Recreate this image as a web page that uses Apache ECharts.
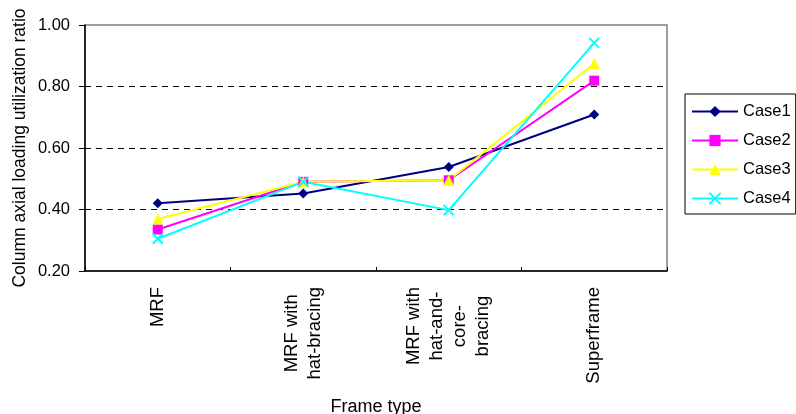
<!DOCTYPE html>
<html>
<head>
<meta charset="utf-8">
<script src="https://cdn.jsdelivr.net/npm/echarts@6/dist/echarts.min.js"></script>
<style>
html,body{margin:0;padding:0;background:#fff;}
#chart{width:796px;height:414px;}
</style>
</head>
<body>
<div id="chart"></div>
<script>
var categories = ['MRF', 'MRF with\nhat-bracing', 'MRF with\nhat-and-\ncore-\nbracing', 'Superframe'];
var seriesNames = ['Case1', 'Case2', 'Case3', 'Case4'];
var case1 = [0.42, 0.452, 0.538, 0.709];
var case2 = [0.335, 0.49, 0.495, 0.819];
var case3 = [0.369, 0.49, 0.495, 0.875];
var case4 = [0.305, 0.49, 0.398, 0.942];
var yTicks = ['0.20', '0.40', '0.60', '0.80', '1.00'];

var FONT = '"Liberation Sans", Arial, sans-serif';
var chart = echarts.init(document.getElementById('chart'), null, {renderer: 'canvas'});

function mk(name, data, color, symbol, size, extra) {
  var s = {
    name: name,
    type: 'line',
    data: data,
    symbol: symbol,
    symbolSize: size,
    lineStyle: {color: color, width: 2},
    itemStyle: {color: color},
    emphasis: {disabled: true}
  };
  if (extra) s.itemStyle = extra;
  return s;
}

var option = {
  animation: false,
  textStyle: {fontFamily: FONT},
  grid: {left: 85, right: 129, top: 25, bottom: 143, outerBoundsMode: 'none', containLabel: false, show: true, borderColor: '#808080', borderWidth: 1.5, backgroundColor: '#fff'},
  legend: {
    orient: 'vertical',
    left: 685, top: 94,
    padding: [9, 5, 7, 6],
    itemGap: 12,
    itemWidth: 46,
    itemHeight: 14,
    borderColor: '#000',
    borderWidth: 1,
    textStyle: {fontSize: 16.5, color: '#000', fontFamily: FONT},
    data: seriesNames
  },
  xAxis: {
    type: 'category',
    data: categories,
    boundaryGap: true,
    name: 'Frame type',
    nameLocation: 'middle',
    nameGap: 127,
    nameMoveOverlap: false,
    nameTextStyle: {fontSize: 18, color: '#000', fontFamily: FONT},
    axisLine: {lineStyle: {color: '#000', width: 1.5}},
    axisTick: {show: true, inside: true, length: 4, alignWithLabel: false, interval: 0, lineStyle: {color: '#000'}},
    axisLabel: {
      interval: 0, rotate: 90, align: 'right', verticalAlign: 'middle', margin: 16,
      fontSize: 18.5, color: '#000', lineHeight: 23, fontFamily: FONT, hideOverlap: false,
      formatter: function (v) {
        return v.split('\n').map(function (l) { return '{c|' + l + '}'; }).join('\n');
      },
      rich: {c: {align: 'center', fontSize: 18.5, lineHeight: 23, color: '#000', fontFamily: FONT}}
    },
    splitLine: {show: false}
  },
  yAxis: {
    type: 'value',
    min: 0.2, max: 1.0, interval: 0.2,
    name: 'Column axial loading utilization ratio',
    nameLocation: 'middle',
    nameGap: 56,
    nameRotate: 90,
    nameMoveOverlap: false,
    nameTextStyle: {fontSize: 17.5, color: '#000', fontFamily: FONT},
    axisLine: {show: true, lineStyle: {color: '#000', width: 1.5}},
    axisTick: {show: true, inside: false, length: 6, lineStyle: {color: '#000'}},
    axisLabel: {
      fontSize: 16.5, color: '#000', margin: 15, fontFamily: FONT,
      formatter: function (v) {
        var idx = Math.round((v - 0.2) / 0.2);
        return yTicks[idx] !== undefined ? yTicks[idx] : v.toFixed(2);
      }
    },
    splitLine: {show: true, showMinLine: false, showMaxLine: false, lineStyle: {color: '#000', type: [6, 5], width: 1}}
  },
  series: [
    mk(seriesNames[0], case1, '#000080', 'diamond', 10),
    mk(seriesNames[1], case2, '#FF00FF', 'rect', 10),
    mk(seriesNames[2], case3, '#FFFF00', 'triangle', 11),
    mk(seriesNames[3], case4, '#00FFFF', 'path://M0,0L10,10M10,0L0,10', 10,
       {color: 'rgba(0,0,0,0)', borderColor: '#00FFFF', borderWidth: 2})
  ]
};
chart.setOption(option);
</script>
</body>
</html>
